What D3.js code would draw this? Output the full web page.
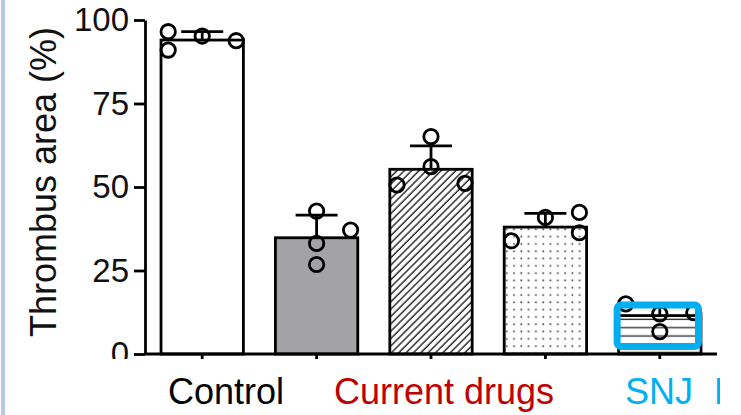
<!DOCTYPE html>
<html>
<head>
<meta charset="utf-8">
<script src="https://cdn.jsdelivr.net/npm/d3@7"></script>
<style>
    body { margin: 0; background: #fff; }
    svg { display: block; font-family: "Liberation Sans", Arial, sans-serif; }
</style>
</head>
<body>
<svg width="741" height="415"></svg>
<script>
const groups = ["control", "drugA", "drugB", "drugC", "snj"]
const means = [94, 34.8, 55.3, 38, 11.5]
const sds = [2.5, 6.8, 7.0, 4.1, 3.4]
const points = [
    [96.5, 91, 95.2, 93.8],
    [42.8, 33.1, 26.8, 37.1],
    [65.1, 56.1, 50.6, 51.1],
    [40.9, 42.4, 36.3, 33.9],
    [15, 12, 6.7, 12.4]
]
// column slot of each point in the scatter (-1 left, 0 centre, 1 right)
const slots = [
    [-1, -1, 0, 1],
    [0, 0, 0, 1],
    [0, 0, -1, 1],
    [0, 1, 1, -1],
    [-1, 0, 0, 1]
]
const yTicks = [0, 25, 50, 75, 100]
const yTitle = "Thrombus area (%)"
const xLabels = [
    { text: "Control", color: "#000000", x: 226 },
    { text: "Current drugs", color: "#c00000", x: 444 },
    { text: "SNJ", color: "#00b0f0", x: 659 }
]
const fills = ["#ffffff", "#a3a3a5", "url(#hatch)", "url(#dots)", "url(#hlines)"]

const width = 741, height = 415
const margin = { top: 20, right: 24, bottom: 61, left: 145 }

const svg = d3.select("svg")

// left page border
svg.append("rect")
    .attr("x", 1).attr("y", 0)
    .attr("width", 4).attr("height", height)
    .attr("fill", "#b6c8e2")

const defs = svg.append("defs")

defs.append("pattern")
    .attr("id", "hatch")
    .attr("patternUnits", "userSpaceOnUse")
    .attr("width", 5.2).attr("height", 5.2)
    .attr("patternTransform", "rotate(45)")
    .append("line")
    .attr("x1", 1).attr("x2", 1)
    .attr("y1", 0).attr("y2", 5.2)
    .attr("stroke", "#222").attr("stroke-width", 1.4)

defs.append("pattern")
    .attr("id", "dots")
    .attr("patternUnits", "userSpaceOnUse")
    .attr("width", 7.3).attr("height", 7.3)
    .append("circle")
    .attr("cx", 3).attr("cy", 3).attr("r", 1.05)
    .attr("fill", "#555")

defs.append("pattern")
    .attr("id", "hlines")
    .attr("patternUnits", "userSpaceOnUse")
    .attr("width", 10).attr("height", 8.3)
    .append("line")
    .attr("x1", 0).attr("x2", 10)
    .attr("y1", 4).attr("y2", 4)
    .attr("stroke", "#333").attr("stroke-width", 1.4)

defs.append("clipPath")
    .attr("id", "plotClip")
    .append("rect")
    .attr("x", 0).attr("y", 0)
    .attr("width", width).attr("height", 359)

defs.append("clipPath")
    .attr("id", "pageClip")
    .append("rect")
    .attr("x", 0).attr("y", 0)
    .attr("width", 720).attr("height", height)

const x = d3.scaleBand()
    .domain(groups)
    .range([margin.left, width - margin.right])
    .paddingInner(0.28)
    .paddingOuter(0.14)

const y = d3.scaleLinear()
    .domain([0, 100])
    .range([height - margin.bottom, margin.top])

const jitter = d3.scaleLinear().domain([-1, 1]).range([-34, 34])

const plot = svg.append("g").attr("clip-path", "url(#plotClip)")

plot.append("g")
    .selectAll("rect")
    .data(groups)
    .join("rect")
    .attr("x", d => x(d))
    .attr("y", (d, i) => y(means[i]))
    .attr("width", x.bandwidth())
    .attr("height", (d, i) => y(0) - y(means[i]))
    .attr("fill", (d, i) => fills[i])
    .attr("stroke", "#000")
    .attr("stroke-width", 2.8)

// upper SD bars
const err = plot.append("g")
    .attr("stroke", "#000")
    .attr("stroke-width", 2.8)
err.selectAll("line.stem")
    .data(groups)
    .join("line")
    .attr("class", "stem")
    .attr("x1", d => x(d) + x.bandwidth() / 2)
    .attr("x2", d => x(d) + x.bandwidth() / 2)
    .attr("y1", (d, i) => y(means[i]))
    .attr("y2", (d, i) => y(means[i] + sds[i]))
err.selectAll("line.cap")
    .data(groups)
    .join("line")
    .attr("class", "cap")
    .attr("x1", d => x(d) + x.bandwidth() / 2 - 21)
    .attr("x2", d => x(d) + x.bandwidth() / 2 + 21)
    .attr("y1", (d, i) => y(means[i] + sds[i]))
    .attr("y2", (d, i) => y(means[i] + sds[i]))

const pts = groups.flatMap((g, i) => points[i].map((v, j) => ({ g, v, s: slots[i][j] })))
plot.append("g")
    .selectAll("circle")
    .data(pts)
    .join("circle")
    .attr("cx", d => x(d.g) + x.bandwidth() / 2 + jitter(d.s))
    .attr("cy", d => y(d.v))
    .attr("r", 7.2)
    .attr("fill", "none")
    .attr("stroke", "#000")
    .attr("stroke-width", 2.8)

// axes
const yAxis = plot.append("g")
    .attr("transform", `translate(${margin.left},0)`)
    .call(d3.axisLeft(y).tickValues(yTicks).tickSize(11).tickPadding(5).tickSizeOuter(0))
yAxis.select(".domain").attr("stroke-width", 2.8)
yAxis.selectAll(".tick line").attr("stroke-width", 2.8)
yAxis.selectAll(".tick text")
    .attr("font-size", 33)
    .attr("font-family", "Liberation Sans, Arial, sans-serif")
    .attr("fill", "#111")

const xAxis = plot.append("g")
    .attr("transform", `translate(0,${y(0)})`)
    .call(d3.axisBottom(x).tickSize(6).tickSizeOuter(0).tickFormat(""))
xAxis.select(".domain")
    .attr("d", `M${margin.left},0H${width - margin.right}`)
    .attr("stroke-width", 2.8)
xAxis.selectAll(".tick line").attr("stroke-width", 2.8)

svg.append("text")
    .attr("transform", "translate(56,182) rotate(-90)")
    .attr("text-anchor", "middle")
    .attr("font-size", 36)
    .attr("fill", "#111")
    .text(yTitle)

// highlight box round the SNJ bar
const snjX = x("snj")
svg.append("rect")
    .attr("x", snjX - 1.5)
    .attr("y", 305)
    .attr("width", x.bandwidth() - 1)
    .attr("height", 41.5)
    .attr("rx", 4)
    .attr("fill", "none")
    .attr("stroke", "#00aeef")
    .attr("stroke-width", 7)

const labels = svg.append("g")
    .attr("font-size", 36)
    .attr("text-anchor", "middle")
    .attr("clip-path", "url(#pageClip)")
labels.selectAll("text")
    .data(xLabels)
    .join("text")
    .attr("x", d => d.x)
    .attr("y", 404)
    .attr("fill", d => d.color)
    .text(d => d.text)
labels.append("text")
    .attr("x", 714)
    .attr("y", 404)
    .attr("fill", "#00b0f0")
    .attr("text-anchor", "start")
    .text("P")
</script>
</body>
</html>
